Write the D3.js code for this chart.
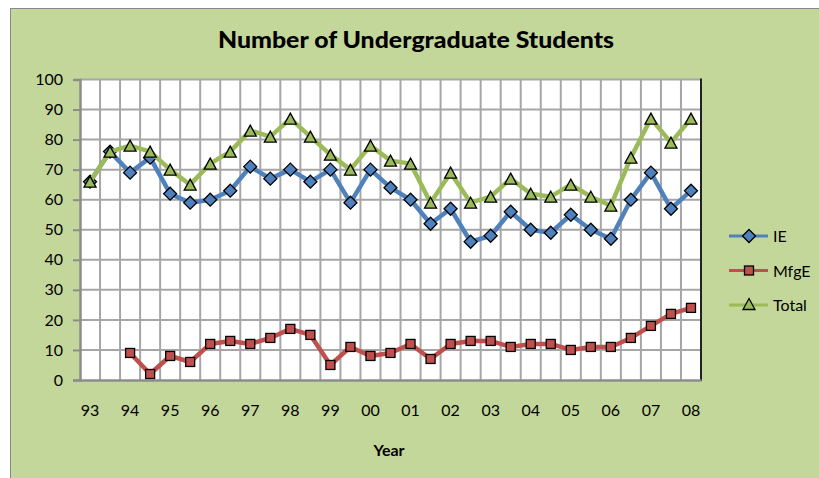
<!DOCTYPE html>
<html><head><meta charset="utf-8">
<script src="https://cdn.jsdelivr.net/npm/d3@7"></script>
<style>body{margin:0;background:#fff}svg{display:block}</style>
</head><body>
<script>
const categories = ["93","93.5","94","94.5","95","95.5","96","96.5","97","97.5","98","98.5","99","99.5","00","00.5","01","01.5","02","02.5","03","03.5","04","04.5","05","05.5","06","06.5","07","07.5","08"];
const tickLabels = ["93","94","95","96","97","98","99","00","01","02","03","04","05","06","07","08"];
const ieValues = [66,76,69,74,62,59,60,63,71,67,70,66,70,59,70,64,60,52,57,46,48,56,50,49,55,50,47,60,69,57,63];
const mfgeValues = [null,null,9,2,8,6,12,13,12,14,17,15,5,11,8,9,12,7,12,13,13,11,12,12,10,11,11,14,18,22,24];
const totalValues = [66,76,78,76,70,65,72,76,83,81,87,81,75,70,78,73,72,59,69,59,61,67,62,61,65,61,58,74,87,79,87];
const yTicks = [0,10,20,30,40,50,60,70,80,90,100];
const seriesNames = ["IE","MfgE","Total"];

const W = 819, H = 478;
const svg = d3.select("body").append("svg").attr("width", W).attr("height", H);
const font = "Lato, 'Open Sans', sans-serif";

svg.append("rect").attr("x",10.5).attr("y",8.5).attr("width",W).attr("height",H)
  .attr("fill","#C4D79B").attr("stroke","#8a8a8a").attr("stroke-width",1);

const L = 80, R = 701, T = 79.5, B = 380;
const x = d3.scaleBand().domain(categories).range([L,R]).paddingInner(0).paddingOuter(0);
const y = d3.scaleLinear().domain([0,100]).range([B,T]);
const cx = c => x(c) + x.bandwidth()/2;

svg.append("rect").attr("x",L).attr("y",T).attr("width",R-L).attr("height",B-T).attr("fill","#fff");

const grid = svg.append("g");
grid.selectAll("line.v").data(categories.slice(1)).join("line")
  .attr("x1",d=>x(d)).attr("x2",d=>x(d)).attr("y1",T).attr("y2",B)
  .attr("stroke","#a6a6a6").attr("stroke-width",2);
grid.selectAll("line.h").data(yTicks.filter(v=>v>0)).join("line")
  .attr("x1",L).attr("x2",R).attr("y1",d=>y(d)).attr("y2",d=>y(d))
  .attr("stroke","#a6a6a6").attr("stroke-width",2);

svg.append("line").attr("x1",R).attr("x2",R).attr("y1",T-1).attr("y2",B+1).attr("stroke","#222").attr("stroke-width",2);

const yAxis = d3.axisLeft(y).tickValues(yTicks).tickSize(7).tickPadding(10);
const ya = svg.append("g").attr("transform",`translate(${L},0)`).call(yAxis);
ya.select(".domain").attr("stroke","#8c8c8c").attr("stroke-width",2.5);
ya.selectAll(".tick line").attr("stroke","#8c8c8c").attr("stroke-width",2);
ya.selectAll("text").attr("font-family",font).attr("font-size",16).attr("fill","#000");

const xAxis = d3.axisBottom(x).tickValues(categories.filter(c=>tickLabels.includes(c))).tickSize(0).tickPadding(25);
const xa = svg.append("g").attr("transform",`translate(0,${B})`).call(xAxis);
xa.select(".domain").attr("stroke","#8c8c8c").attr("stroke-width",2.5);
xa.selectAll("text").attr("font-family",font).attr("font-size",16).attr("fill","#000");

const colors = {IE:"#4F81BD", MfgE:"#C0504D", Total:"#9BBB59"};
const data = {IE:ieValues, MfgE:mfgeValues, Total:totalValues};

function marker(sel, name){
  if(name==="IE"){
    sel.append("path").attr("d","M0,-6.5L6.5,0L0,6.5L-6.5,0Z");
  } else if(name==="MfgE"){
    sel.append("rect").attr("x",-4.5).attr("y",-4.5).attr("width",9).attr("height",9);
  } else {
    sel.append("path").attr("d","M0,-5.5L6,5.5L-6,5.5Z");
  }
  sel.selectAll("path,rect").attr("fill",colors[name]).attr("stroke","#000").attr("stroke-width",1.3);
}

const line = d3.line().defined(d=>d.v!=null).x(d=>cx(d.c)).y(d=>y(d.v));
seriesNames.forEach(name=>{
  const pts = categories.map((c,i)=>({c, v:data[name][i]}));
  const g = svg.append("g");
  g.append("path").datum(pts).attr("d",line).attr("fill","none")
    .attr("stroke",colors[name]).attr("stroke-width",4.5).attr("stroke-linejoin","round");
  pts.filter(d=>d.v!=null).forEach(d=>{
    const m = g.append("g").attr("transform",`translate(${cx(d.c)},${y(d.v)})`);
    marker(m, name);
  });
});

const ly = [236, 270.5, 305];
seriesNames.forEach((name,i)=>{
  const g = svg.append("g").attr("transform",`translate(0,${ly[i]})`);
  g.append("line").attr("x1",729).attr("x2",768).attr("y1",0).attr("y2",0)
    .attr("stroke",colors[name]).attr("stroke-width",3);
  const m = g.append("g").attr("transform",`translate(749,${name==="Total"?-1:0})`);
  marker(m, name);
  g.append("text").attr("x",773).attr("y",6).text(name)
    .attr("font-family",font).attr("font-size",16).attr("fill","#000");
});

svg.append("text").attr("x",218).attr("y",47.5).text("Number of Undergraduate Students")
  .attr("font-family",font).attr("font-weight","900").attr("font-size",23)
  .attr("textLength",396).attr("lengthAdjust","spacingAndGlyphs").attr("fill","#000");

svg.append("text").attr("x",389).attr("y",456).attr("text-anchor","middle").text("Year")
  .attr("font-family",font).attr("font-weight","bold").attr("font-size",16).attr("fill","#000");
</script>
</body></html>
